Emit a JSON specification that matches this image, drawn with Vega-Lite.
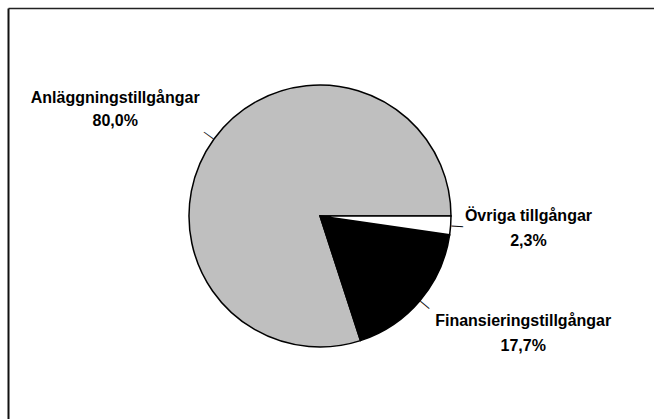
{
  "$schema": "https://vega.github.io/schema/vega-lite/v6.json",
  "width": 624,
  "height": 416,
  "padding": {"left": 8, "top": 8, "right": 22, "bottom": 0},
  "autosize": {"type": "none"},
  "background": "white",
  "config": {"view": {"stroke": null}},
  "data": {"values": [
    {"cat": "Anläggningstillgångar", "value": 80.0, "lbl": "Anläggningstillgångar\n80,0%"},
    {"cat": "Finansieringstillgångar", "value": 17.7, "lbl": "Finansieringstillgångar\n17,7%"},
    {"cat": "Övriga tillgångar", "value": 2.3, "lbl": "Övriga tillgångar\n2,3%"}
  ]},
  "layer": [
    {
      "mark": {"type": "point", "opacity": 0},
      "encoding": {
        "x": {"field": "value", "type": "quantitative", "scale": {"nice": false, "range": [0, 646]}, "axis": {"orient": "top", "labels": false, "ticks": false, "tickCount": 0, "grid": false, "title": null, "domainColor": "#222", "domainWidth": 1.5, "domainCap": "butt"}},
        "y": {"field": "value", "type": "quantitative", "scale": {"nice": false}, "axis": {"orient": "left", "labels": false, "ticks": false, "tickCount": 0, "grid": false, "title": null, "domainColor": "#111", "domainWidth": 2, "domainCap": "butt"}}
      }
    },
    {
      "mark": {"type": "arc", "outerRadius": 131, "stroke": "#000", "strokeWidth": 1.5},
      "encoding": {
        "theta": {"field": "value", "type": "quantitative", "stack": true, "scale": {"range": [1.5708, 7.854]}},
        "order": {"field": "value", "sort": "ascending"},
        "color": {"field": "cat", "type": "nominal", "legend": null,
          "scale": {"domain": ["Anläggningstillgångar", "Finansieringstillgångar", "Övriga tillgångar"], "range": ["#bfbfbf", "#000000", "#ffffff"]}}
      }
    },
    {
      "mark": {"type": "text", "text": "—", "radius": 137.5, "font": "DejaVu Sans", "fontSize": 13, "baseline": "middle", "align": "center", "color": "#111"},
      "encoding": {
        "theta": {"field": "value", "type": "quantitative", "stack": true},
        "order": {"field": "value", "sort": "ascending"},
        "angle": {"condition": [
          {"test": "datum.cat === 'Övriga tillgångar'", "value": 4},
          {"test": "datum.cat === 'Finansieringstillgångar'", "value": 40}
        ], "value": 36}
      }
    },
    {
      "mark": {"type": "text", "radius": 200, "dx": -43, "dy": 0, "font": "Liberation Sans", "fontWeight": "bold", "fontSize": 16, "lineHeight": 23, "lineBreak": "\n", "align": "center", "baseline": "middle", "color": "#000"},
      "encoding": {
        "theta": {"field": "value", "type": "quantitative", "stack": true},
        "order": {"field": "value", "sort": "ascending"},
        "text": {"condition": {"test": "datum.cat === 'Anläggningstillgångar'", "field": "lbl"}, "value": ""}
      }
    },
    {
      "mark": {"type": "text", "radius": 210, "dx": -1, "dy": -15, "font": "Liberation Sans", "fontWeight": "bold", "fontSize": 16, "lineHeight": 25, "lineBreak": "\n", "align": "center", "baseline": "middle", "color": "#000"},
      "encoding": {
        "theta": {"field": "value", "type": "quantitative", "stack": true},
        "order": {"field": "value", "sort": "ascending"},
        "text": {"condition": {"test": "datum.cat === 'Övriga tillgångar'", "field": "lbl"}, "value": ""}
      }
    },
    {
      "mark": {"type": "text", "radius": 220, "dx": 35, "dy": -37, "font": "Liberation Sans", "fontWeight": "bold", "fontSize": 16, "lineHeight": 25, "lineBreak": "\n", "align": "center", "baseline": "middle", "color": "#000"},
      "encoding": {
        "theta": {"field": "value", "type": "quantitative", "stack": true},
        "order": {"field": "value", "sort": "ascending"},
        "text": {"condition": {"test": "datum.cat === 'Finansieringstillgångar'", "field": "lbl"}, "value": ""}
      }
    }
  ]
}
